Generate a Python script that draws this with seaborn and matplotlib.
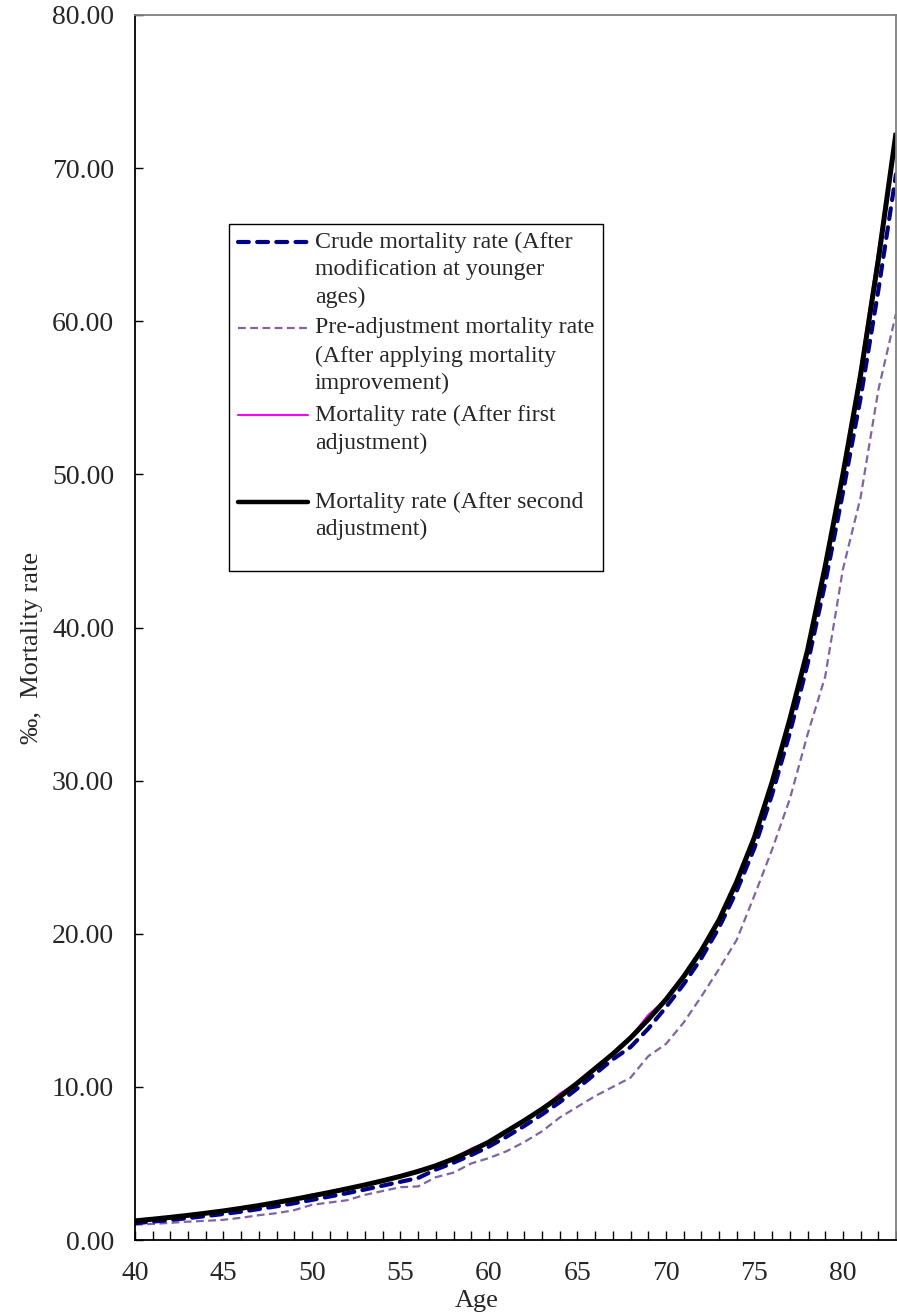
import numpy as np
import pandas as pd
import matplotlib
matplotlib.use("Agg")
import matplotlib.pyplot as plt
from matplotlib.lines import Line2D
from matplotlib.patches import Rectangle
from matplotlib.ticker import MultipleLocator, FormatStrFormatter
import seaborn as sns

# Ages covered by the table
ages = list(range(40, 84))

# Crude mortality rate (after modification at younger ages), per mille
crude = [1.10, 1.20, 1.31, 1.43, 1.56, 1.70, 1.85, 2.02, 2.20, 2.40,
         2.62, 2.84, 3.06, 3.30, 3.55, 3.80, 4.05, 4.60, 5.05, 5.55,
         6.10, 6.75, 7.45, 8.20, 9.00, 9.90, 10.85, 11.80, 12.60, 13.80,
         15.20, 16.70, 18.40, 20.40, 22.80, 25.60, 29.10, 33.10, 37.60, 42.90,
         48.80, 55.00, 62.00, 69.60]

# Pre-adjustment mortality rate (after applying mortality improvement)
pre_adjust = [1.00, 1.05, 1.12, 1.20, 1.25, 1.32, 1.45, 1.62, 1.75, 1.95,
              2.30, 2.45, 2.60, 2.95, 3.20, 3.45, 3.50, 4.10, 4.40, 5.00,
              5.35, 5.80, 6.40, 7.10, 8.00, 8.70, 9.40, 10.00, 10.60, 12.00,
              12.80, 14.20, 15.90, 17.70, 19.60, 22.50, 25.50, 28.80, 33.00, 36.80,
              43.80, 48.50, 55.50, 60.50]

# Mortality rate after first adjustment
first_adj = [1.25, 1.36, 1.48, 1.61, 1.75, 1.90, 2.07, 2.25, 2.45, 2.66,
             2.98, 3.11, 3.35, 3.60, 3.87, 4.16, 4.58, 4.85, 5.30, 5.97,
             6.45, 7.10, 7.80, 8.55, 9.55, 10.30, 11.20, 12.15, 13.20, 14.70,
             15.70, 17.20, 18.90, 20.90, 23.40, 26.30, 29.90, 34.00, 38.50, 44.00,
             50.00, 57.00, 64.60, 72.30]

# Mortality rate after second adjustment
second_adj = [1.25, 1.36, 1.48, 1.61, 1.75, 1.90, 2.07, 2.25, 2.45, 2.66,
              2.88, 3.11, 3.35, 3.60, 3.87, 4.16, 4.48, 4.85, 5.30, 5.82,
              6.40, 7.10, 7.80, 8.55, 9.35, 10.25, 11.20, 12.15, 13.20, 14.40,
              15.70, 17.20, 18.90, 20.90, 23.40, 26.30, 29.90, 34.00, 38.50, 44.00,
              50.00, 56.50, 64.00, 72.30]

labels = [
    "Crude mortality rate (After\nmodification at younger\nages)",
    "Pre-adjustment mortality rate\n(After applying mortality\nimprovement)",
    "Mortality rate (After first\nadjustment)",
    "Mortality rate (After second\nadjustment)",
]

df = pd.DataFrame({"age": ages, "crude": crude, "pre": pre_adjust,
                   "first": first_adj, "second": second_adj})

sns.set_theme(style="white")
plt.rcParams["font.family"] = ["Liberation Serif", "DejaVu Serif"]

W, H = 897, 1316
fig = plt.figure(figsize=(W / 100, H / 100), dpi=100)
ax = fig.add_axes([135 / W, 1 - 1240 / H, (896 - 135) / W, (1240 - 15) / H])

styles = {
    "crude": dict(color="#000080", lw=3.0, linestyle=(0, (2.6, 2.0)),
                  dash_capstyle="round"),
    "pre": dict(color="#8064A2", lw=1.6, linestyle=(0, (3.5, 2.0))),
    "first": dict(color="#FF00FF", lw=1.5, linestyle="-"),
    "second": dict(color="black", lw=3.6, linestyle="-",
                   solid_capstyle="butt"),
}

for key in ["pre", "crude", "first", "second"]:
    sns.lineplot(data=df, x="age", y=key, ax=ax, estimator=None,
                 legend=False, **styles[key])

ax.set_xlim(40, 83)
ax.set_ylim(0, 80)
ax.xaxis.set_major_locator(MultipleLocator(5))
ax.xaxis.set_minor_locator(MultipleLocator(1))
ax.yaxis.set_major_locator(MultipleLocator(10))
ax.yaxis.set_major_formatter(FormatStrFormatter("%.2f"))

ax.tick_params(axis="x", which="both", direction="in", length=6.5, width=1,
               color="black", labelsize=20, pad=15, bottom=True, top=False)
ax.tick_params(axis="y", which="major", direction="in", length=6, width=1,
               color="black", labelsize=20, pad=15, left=True, right=False)

for side in ["left", "bottom"]:
    ax.spines[side].set_color("black")
    ax.spines[side].set_linewidth(1.3)
for side in ["top", "right"]:
    ax.spines[side].set_color("#808080")
    ax.spines[side].set_linewidth(1.3)

ax.set_xlabel("Age", fontsize=19)
ax.xaxis.set_label_coords((477 - 135) / 761, (1240 - 1290) / 1225)
ax.set_ylabel("\u2030,  Mortality rate", fontsize=19)
ax.yaxis.set_label_coords((43 - 135) / 761, (1240 - 648) / 1225)


def fx(px):
    return px / W


def fy(py):
    return 1 - py / H


# Legend box with handles aligned to the first line of each entry
frame = Rectangle((fx(229), fy(571)), fx(603) - fx(229), fy(224) - fy(571),
                  transform=fig.transFigure, facecolor="white",
                  edgecolor="black", lw=1.0, zorder=5)
fig.add_artist(frame)

entry_lines = [
    ("crude", [242, 269, 297]),
    ("pre", [328, 356, 383]),
    ("first", [415, 443]),
    ("second", [502, 529]),
]
for (key, ys), label in zip(entry_lines, labels):
    st = dict(styles[key])
    handle = Line2D([fx(238), fx(308)], [fy(ys[0]), fy(ys[0])],
                    transform=fig.transFigure, zorder=6, **st)
    if key == "second":
        handle.set_linewidth(3.2)
        handle.set_solid_capstyle("round")
    fig.add_artist(handle)
    for text_line, yy in zip(label.split("\n"), ys):
        fig.text(fx(315), fy(yy), text_line, fontsize=17.2, va="center",
                 ha="left", zorder=7)

fig.savefig("out.png", dpi=100)
